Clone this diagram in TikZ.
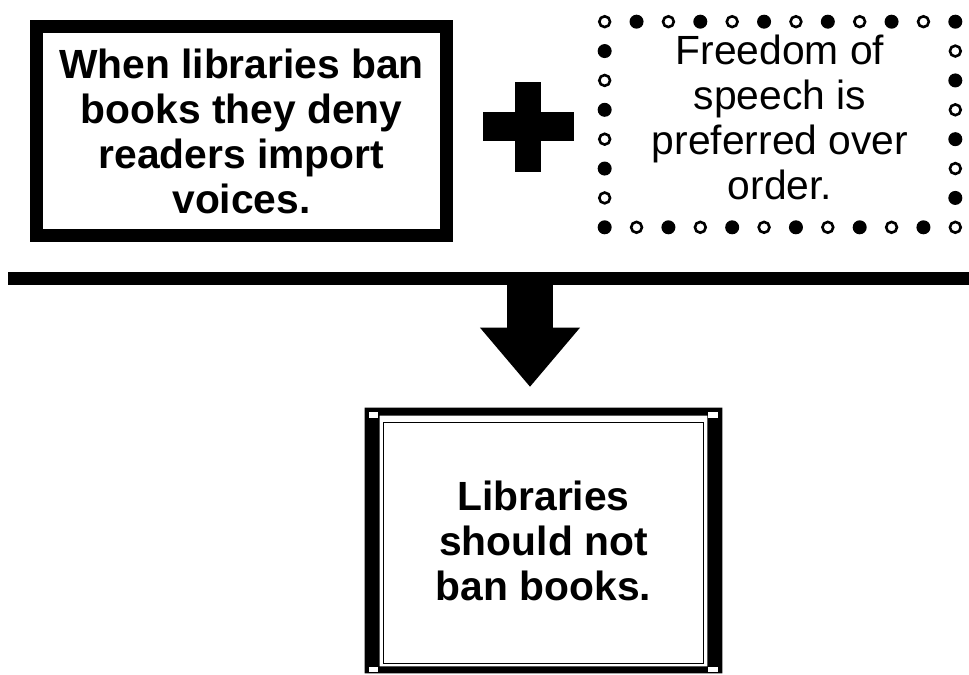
\documentclass[tikz,border=0pt]{standalone}
\usepackage{fontspec}
\setmainfont{Liberation Sans}
\usetikzlibrary{calc, positioning, arrows.meta}

\newcommand{\ringdot}[2]{%
  \pgfmathtruncatemacro{\dotodd}{mod(#1,2)}%
  \ifnum\dotodd=1
    \fill (#2) circle[radius=0.175cm];
  \else
    \draw[line width=0.065cm, fill=white] (#2) circle[radius=0.135cm];
  \fi}

\begin{document}
\begin{tikzpicture}[x=0.025cm, y=-0.025cm, every node/.style={font=\fontsize{29}{32}\selectfont, align=center, inner sep=0pt}]
  \tikzset{
    thickbox/.style={draw, line width=0.325cm, minimum width=10.25cm, minimum height=5.225cm, font=\fontsize{29}{32}\selectfont\bfseries},
    ringbox/.style={minimum width=8.75cm, minimum height=5.125cm},
    framebox/.style={minimum width=8.925cm, minimum height=6.625cm, font=\fontsize{29}{32}\selectfont\bfseries}
  }
  \useasboundingbox (0,0) rectangle (969,675);

  \node[thickbox] (prem1) at (241.5,131) {When libraries ban\\books they deny\\readers import\\voices.};

  \coordinate (plus) at (528,127);
  \fill ($(plus)+(-13,-45)$) rectangle ($(plus)+(13,45)$);
  \fill ($(plus)+(-45.5,-14.5)$) rectangle ($(plus)+(45.5,14.5)$);

  \node[ringbox] (ring) at (780,124.5) {};
  \node (prem2) at (780,117.5) {Freedom of\\speech is\\preferred over\\order.};
  \foreach \i in {0,...,11}
    \ringdot{\i}{$(ring.north west)!\i/11!(ring.north east)$};
  \foreach \j in {1,...,7}
    \ringdot{11+\j}{$(ring.north east)!\j/7!(ring.south east)$};
  \foreach \i in {1,...,11}
    \ringdot{18+\i}{$(ring.south east)!\i/11!(ring.south west)$};
  \foreach \j in {1,...,6}
    \ringdot{29+\j}{$(ring.south west)!\j/7!(ring.north west)$};

  \coordinate (barL) at (8,278.5);
  \coordinate (barR) at (969,278.5);
  \draw[line width=0.325cm] (barL) -- (barR);
  \coordinate (split) at (530,278.5);

  \node[framebox] (concl) at (543.5,540.5) {Libraries\\should not\\ban books.};
  \fill[even odd rule] (concl.north west) rectangle (concl.south east)
    ($(concl.north west)+(15,8)$) rectangle ($(concl.south east)+(-15,-7)$);
  \draw[line width=0.04cm] ($(concl.north west)+(19,15)$) rectangle ($(concl.south east)+(-19,-10)$);
  \fill[white] ($(concl.north west)+(4,4)$) rectangle ($(concl.north west)+(13,10)$);
  \fill[white] ($(concl.north east)+(-14,4)$) rectangle ($(concl.north east)+(-4,10)$);
  \fill[white] ($(concl.south west)+(4,-6)$) rectangle ($(concl.south west)+(13,-1)$);
  \fill[white] ($(concl.south east)+(-14,-6)$) rectangle ($(concl.south east)+(-4,-1)$);

  \draw[line width=1.15cm, -{Triangle[width=2.5cm, length=1.475cm, line width=0pt]}, shorten >=0.525cm] (split) -- (split |- concl.north);
\end{tikzpicture}
\end{document}
